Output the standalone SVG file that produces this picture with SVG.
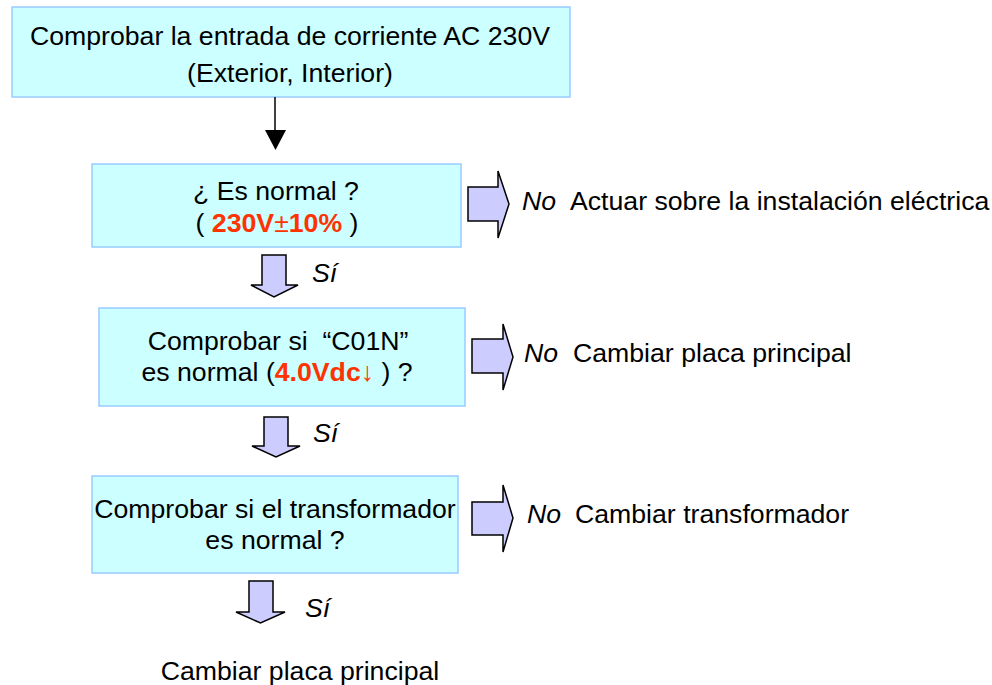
<svg xmlns="http://www.w3.org/2000/svg" width="992" height="685" viewBox="0 0 992 685">
<style>
.box{fill:#CCFFFF;stroke:#99CCFF;stroke-width:1.5}
.t{font-family:"Liberation Sans",Arial,sans-serif;font-size:26.67px;fill:#000}
.c{text-anchor:middle}
.i{font-style:italic}
.r{fill:#FF3300;font-weight:bold}
.blk{fill:#CCCCFF;stroke:#000;stroke-width:1.5;stroke-linejoin:miter}
</style>
<rect width="992" height="685" fill="#fff"/>

<g id="n1">
<rect class="box" x="12" y="7" width="558" height="90"/>
<text class="t c" x="290" y="45">Comprobar la entrada de corriente AC 230V</text>
<text class="t c" x="290" y="82">(Exterior, Interior)</text>
</g>

<g id="n2">
<rect class="box" x="92" y="164" width="369" height="83"/>
<text class="t c" x="276" y="200">¿ Es normal ?</text>
<text class="t c" x="277" y="232">( <tspan class="r">230V</tspan><tspan fill="#FF3300">±</tspan><tspan class="r">10%</tspan> )</text>
</g>

<g id="n3">
<rect class="box" x="99" y="308" width="366" height="98"/>
<text class="t c" x="278" y="350" xml:space="preserve">Comprobar si  “C01N”</text>
<text class="t c" x="277" y="381">es normal (<tspan class="r">4.0Vdc↓</tspan> ) ?</text>
</g>

<g id="n4">
<rect class="box" x="92" y="476" width="366" height="97"/>
<text class="t c" x="275" y="518">Comprobar si el transformador</text>
<text class="t c" x="275" y="549">es normal ?</text>
</g>

<g id="r1">
<text class="t i" x="522" y="210">No</text>
<text class="t" x="570" y="210">Actuar sobre la instalación eléctrica</text>
</g>
<g id="r2">
<text class="t i" x="524" y="362">No</text>
<text class="t" x="573" y="362">Cambiar placa principal</text>
</g>
<g id="r3">
<text class="t i" x="527" y="523">No</text>
<text class="t" x="575" y="523">Cambiar transformador</text>
</g>
<g id="end">
<text class="t c" x="300" y="680">Cambiar placa principal</text>
</g>

<g id="labels">
<text class="t i" x="312" y="282">Sí</text>
<text class="t i" x="313" y="442">Sí</text>
<text class="t i" x="305" y="617">Sí</text>
</g>

<g id="connectors">
<path d="M275,97 V130" stroke="#000" stroke-width="1.5" fill="none"/>
<path d="M265,130 L286,130 L275.5,150 z" fill="#000"/>
<polygon class="blk" points="468,187 498,187 498,171 509,204 498,238 498,221 468,221"/>
<polygon class="blk" points="472,339 503,339 503,324 513,357 503,390 503,373 472,373"/>
<polygon class="blk" points="472,502 503,502 503,485 513,518 503,552 503,535 472,535"/>
<polygon class="blk" points="262,255 286,255 286,285 298,285 274,297 251,285 262,285"/>
<polygon class="blk" points="264,417 288,417 288,446 300,446 276,457 252,446 264,446"/>
<polygon class="blk" points="249,581 273,581 273,612 285,612 260.5,623 236,612 249,612"/>
</g>
</svg>
